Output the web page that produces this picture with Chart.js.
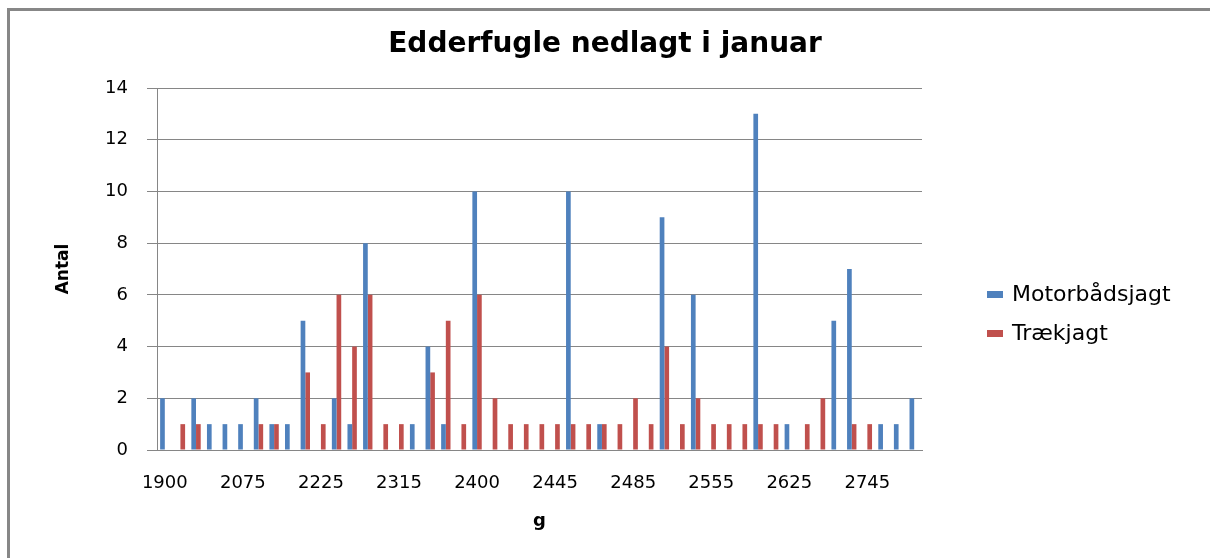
<!DOCTYPE html>
<html lang="da">
<head>
    <meta charset="UTF-8">
    <title>Edderfugle nedlagt i januar</title>
    <script src="https://cdn.jsdelivr.net/npm/chart.js"></script>
    <style>
        html, body {
            margin: 0;
            padding: 0;
            background: #ffffff;
        }
        .wrap {
            position: relative;
            width: 1210px;
            height: 558px;
        }
        .frame {
            position: absolute;
            left: 7px;
            top: 8px;
            right: 0;
            bottom: 0;
            border-left: 3px solid #878787;
            border-top: 3px solid #878787;
            pointer-events: none;
        }
    </style>
</head>
<body>
    <div class="wrap">
        <canvas id="chart" width="1210" height="558"></canvas>
        <div class="frame"></div>
    </div>

    <script>
        // vægtklasser (g) - kun hver 5. kan læses på aksen
        const weights = [
            '1900', '1960', '1995', '2020', '2050',
            '2075', '2100', '2140', '2175', '2200',
            '2225', '2250', '2270', '2285', '2300',
            '2315', '2335', '2350', '2365', '2385',
            '2400', '2410', '2420', '2425', '2435',
            '2445', '2450', '2460', '2470', '2475',
            '2485', '2500', '2510', '2525', '2540',
            '2555', '2565', '2580', '2600', '2610',
            '2625', '2650', '2675', '2700', '2725',
            '2745', '2775', '2800', '2850'
        ];

        const motorbaad = [
            2, 0, 2, 1, 1,   1, 2, 1, 1, 5,
            0, 2, 1, 8, 0,   0, 1, 4, 1, 0,
            10, 0, 0, 0, 0,  0, 10, 0, 1, 0,
            0, 0, 9, 0, 6,   0, 0, 0, 13, 0,
            1, 0, 0, 5, 7,   0, 1, 1, 2
        ];

        const traek = [
            0, 1, 1, 0, 0,   0, 1, 1, 0, 3,
            1, 6, 4, 6, 1,   1, 0, 3, 5, 1,
            6, 2, 1, 1, 1,   1, 1, 1, 1, 1,
            2, 1, 4, 1, 2,   1, 1, 1, 1, 1,
            0, 1, 2, 0, 1,   1, 0, 0, 0
        ];

        const yTicks = [0, 2, 4, 6, 8, 10, 12, 14];

        Chart.defaults.font.family = '"DejaVu Sans", sans-serif';
        Chart.defaults.color = '#000000';

        // legend drawn to the right of the plot, like the original
        const sideLegend = {
            id: 'sideLegend',
            afterDraw(chart) {
                const ctx = chart.ctx;
                ctx.save();
                ctx.font = '22px "DejaVu Sans"';
                ctx.textBaseline = 'middle';
                chart.data.datasets.forEach((ds, i) => {
                    const y = 294 + i * 39;
                    ctx.fillStyle = ds.backgroundColor;
                    ctx.fillRect(987, y - 3, 16, 7);
                    ctx.fillStyle = '#000000';
                    ctx.fillText(ds.label, 1012, y + 1);
                });
                ctx.restore();
            }
        };

        const ctx = document.getElementById('chart').getContext('2d');
        new Chart(ctx, {
            type: 'bar',
            data: {
                labels: weights,
                datasets: [{
                    label: 'Motorbådsjagt',
                    data: motorbaad,
                    backgroundColor: '#4F81BD',
                    categoryPercentage: 0.6,
                    barPercentage: 1.0
                }, {
                    label: 'Trækjagt',
                    data: traek,
                    backgroundColor: '#C0504D',
                    categoryPercentage: 0.6,
                    barPercentage: 1.0
                }]
            },
            options: {
                responsive: false,
                animation: false,
                layout: { padding: 0 },
                plugins: {
                    legend: { display: false },
                    tooltip: { enabled: false },
                    title: {
                        display: true,
                        text: 'Edderfugle nedlagt i januar',
                        font: { size: 28, weight: 'bold' },
                        color: '#000000',
                        padding: { top: 28, bottom: 26.4 }
                    }
                },
                scales: {
                    x: {
                        grid: { display: false, drawTicks: false },
                        border: { display: true, color: '#868686', width: 1 },
                        ticks: {
                            autoSkip: false,
                            maxRotation: 0,
                            padding: 23,
                            font: { size: 18 },
                            callback: function (value, index) {
                                return index % 5 === 0 ? weights[index] : '';
                            }
                        },
                        title: {
                            display: true,
                            text: 'g',
                            font: { size: 18, weight: 'bold' },
                            padding: { top: 0, bottom: 26 }
                        },
                        afterFit(scale) { scale.height = 108; }
                    },
                    y: {
                        min: yTicks[0],
                        max: yTicks[yTicks.length - 1],
                        afterBuildTicks(scale) {
                            scale.ticks = yTicks.map(v => ({ value: v }));
                        },
                        grid: { color: '#868686', tickLength: 10 },
                        border: { color: '#868686' },
                        ticks: { padding: 19, font: { size: 18 } },
                        title: {
                            display: true,
                            text: 'Antal',
                            font: { size: 17, weight: 'bold' },
                            padding: { top: 53, bottom: 0 }
                        },
                        afterFit(scale) { scale.width = 157; }
                    },
                    // empty space on the right for the legend
                    side: {
                        type: 'linear',
                        position: 'right',
                        grid: { display: false },
                        border: { display: false },
                        ticks: { display: false },
                        afterFit(scale) { scale.width = 288; }
                    }
                }
            },
            plugins: [sideLegend]
        });
    </script>
</body>
</html>
